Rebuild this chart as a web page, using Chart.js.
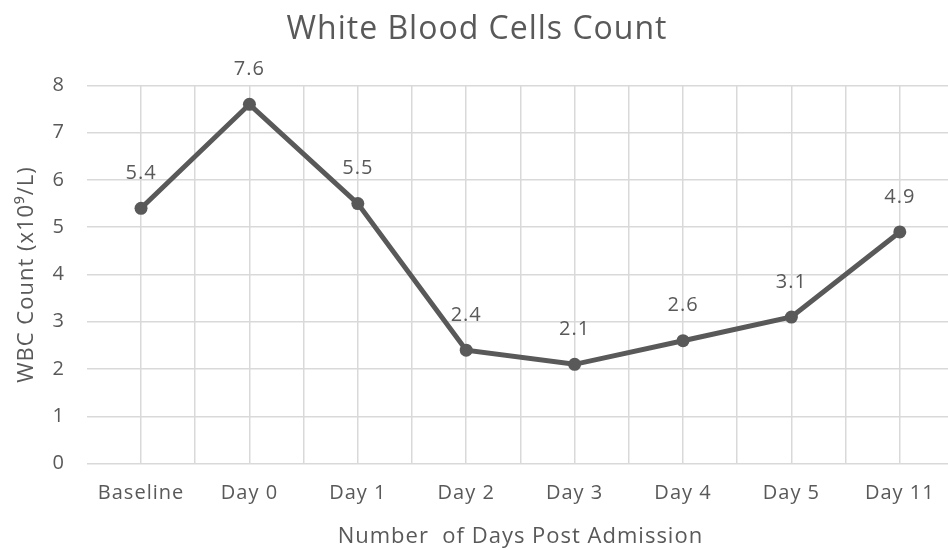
<!DOCTYPE html>
<html>
<head>
<meta charset="utf-8">
<script src="https://cdn.jsdelivr.net/npm/chart.js@4.4.1/dist/chart.umd.min.js"></script>
<style>
  html, body { margin: 0; padding: 0; background: #fff; overflow: hidden; }
  #wrap { width: 962px; height: 550px; position: relative; }
</style>
</head>
<body>
<div id="wrap"><canvas id="chart_wbc"></canvas></div>
<script>
// DATA
const dayLabels = ['Baseline', 'Day 0', 'Day 1', 'Day 2', 'Day 3', 'Day 4', 'Day 5', 'Day 11'];
const wbcValues = [5.4, 7.6, 5.5, 2.4, 2.1, 2.6, 3.1, 4.9];
const yTicks = [0, 1, 2, 3, 4, 5, 6, 7, 8];

const textGrey = '#595959';
const gridGrey = '#d9d9d9';
const fontName = "'Open Sans', 'Noto Sans', sans-serif";

// the reference text is a bit wider than Open Sans, so space the letters out
const spacing = {
  id: 'spacing',
  beforeLayout(chart) { chart.ctx.letterSpacing = '1px'; },
  beforeDraw(chart) { chart.ctx.letterSpacing = '1px'; }
};

// value labels above each point
const pointLabels = {
  id: 'pointLabels',
  afterDatasetsDraw(chart) {
    const ctx = chart.ctx;
    const meta = chart.getDatasetMeta(0);
    ctx.save();
    ctx.fillStyle = textGrey;
    ctx.font = "20px " + fontName;
    ctx.textAlign = 'center';
    ctx.textBaseline = 'middle';
    meta.data.forEach(function(pt, i) {
      ctx.fillText(String(wbcValues[i]), pt.x, pt.y - 35);
    });
    ctx.restore();
  }
};

const ctx_wbc = document.getElementById('chart_wbc');

const chart_wbc = new Chart(ctx_wbc, {
  type: 'line',
  data: {
    labels: dayLabels,
    datasets: [{
      label: 'WBC',
      data: wbcValues,
      borderColor: '#595959',
      backgroundColor: '#595959',
      borderWidth: 5,
      pointRadius: 6.5,
      pointBackgroundColor: '#595959',
      pointBorderWidth: 0,
      tension: 0,
      xAxisID: 'x',
      yAxisID: 'y'
    }]
  },
  options: {
    responsive: true,
    maintainAspectRatio: false,
    animation: false,
    layout: { padding: { left: 0, right: 8, top: 0, bottom: 0 } },
    scales: {
      x: {
        type: 'category',
        offset: true,
        grid: { display: false, drawTicks: false },
        border: { display: false },
        ticks: { color: textGrey, font: { family: fontName, size: 20 }, padding: 18, maxRotation: 0 },
        title: {
          display: true,
          text: 'Number  of Days Post Admission',
          color: textGrey,
          font: { family: fontName, size: 22 },
          padding: { top: 0, bottom: 0 }
        }
      },
      xg: {
        type: 'linear',
        position: 'bottom',
        min: -0.5,
        max: 7.5,
        ticks: { display: false, stepSize: 0.5 },
        grid: {
          drawTicks: false,
          color: function(c) { return c.tick && c.tick.value === -0.5 ? 'rgba(0,0,0,0)' : gridGrey; },
          lineWidth: 1.5
        },
        border: { display: false }
      },
      y: {
        min: 0,
        max: 8,
        afterBuildTicks: function(axis) { axis.ticks = yTicks.map(function(v) { return { value: v }; }); },
        grid: { color: gridGrey, lineWidth: 1.5, drawTicks: false },
        border: { display: false },
        ticks: { color: textGrey, font: { family: fontName, size: 20 }, padding: 22 },
        title: {
          display: true,
          text: 'WBC Count (x10⁹/L)',
          color: textGrey,
          font: { family: fontName, size: 22 },
          padding: { top: 14, bottom: -10 }
        }
      }
    },
    plugins: {
      legend: { display: false },
      tooltip: { enabled: false },
      title: {
        display: true,
        text: 'White Blood Cells Count',
        color: textGrey,
        font: { family: fontName, size: 32, weight: 'normal' },
        padding: { top: 11, bottom: 36 }
      }
    }
  },
  plugins: [spacing, pointLabels]
});
</script>
</body>
</html>
